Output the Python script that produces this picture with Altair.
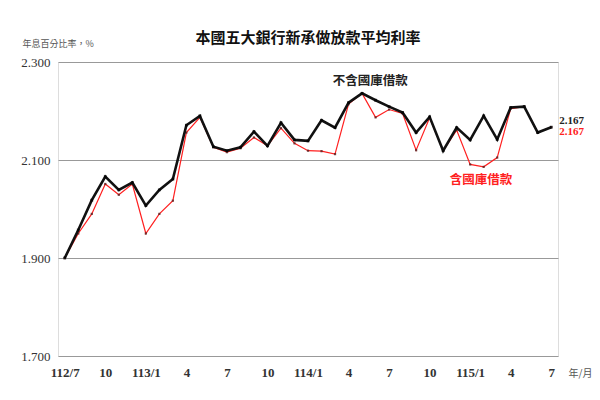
import altair as alt
import pandas as pd

tick_labels = ["112/7", "10", "113/1", "4", "7", "10", "114/1", "4", "7", "10", "115/1", "4", "7"]

excl_loan = [1.900, 1.957, 2.018, 2.066, 2.039, 2.054,
             2.007, 2.039, 2.061, 2.171, 2.190, 2.127, 2.119, 2.126, 2.158, 2.129, 2.176, 2.141,
             2.139, 2.181, 2.166, 2.217, 2.236, 2.222, 2.209, 2.197, 2.156, 2.188, 2.119, 2.166,
             2.141, 2.190, 2.142, 2.207, 2.209, 2.156, 2.167]
incl_loan = [1.900, 1.950, 1.990, 2.051, 2.029, 2.051,
             1.950, 1.990, 2.017, 2.156, 2.187, 2.126, 2.116, 2.124, 2.146, 2.129, 2.165, 2.134,
             2.119, 2.118, 2.112, 2.214, 2.236, 2.187, 2.203, 2.195, 2.120, 2.186, 2.119, 2.161,
             2.091, 2.086, 2.105, 2.205, 2.209, 2.156, 2.167]

title_text = "本國五大銀行新承做放款平均利率"

n = len(excl_loan)
df = pd.DataFrame({
    "i": list(range(n)) * 2,
    "v": excl_loan + incl_loan,
    "s": ["不含國庫借款"] * n + ["含國庫借款"] * n,
})
df_ex = df[df.s == "不含國庫借款"]
df_in = df[df.s == "含國庫借款"]

label_expr = "{" + ",".join(f"'{k*3}':'{t}'" for k, t in enumerate(tick_labels)) + "}[datum.value]"

xscale = alt.Scale(domain=[-0.5, 36.5], nice=False, zero=False)
yscale = alt.Scale(domain=[1.7, 2.3], nice=False, zero=False)

x = alt.X("i:Q", scale=xscale, axis=alt.Axis(
    values=list(range(0, 37, 3)), labelExpr=label_expr, grid=False, domain=False, ticks=False,
    labelFont="Liberation Serif", labelFontSize=13, labelFontWeight="bold", labelColor="#333",
    labelPadding=10, title="年/月", titleFont="Noto Sans CJK TC", titleFontSize=10,
    titleFontWeight="normal", titleColor="#555", titleX=522, titleY=17, titleBaseline="middle",
    titleAlign="center"))
y = alt.Y("v:Q", scale=yscale, axis=alt.Axis(
    values=[1.7, 1.9, 2.1, 2.3], format=".3f", grid=True, gridColor="#999", gridWidth=1,
    domain=False, ticks=False, labelFont="Liberation Serif", labelFontSize=13, labelColor="#333",
    labelPadding=8, title="年息百分比率，%", titleAngle=0, titleX=-36, titleY=-19,
    titleAlign="left", titleBaseline="middle", titleFont="Noto Sans CJK TC", titleFontSize=9,
    titleFontWeight="normal", titleColor="#555"))

red_line = alt.Chart(df_in).mark_line(color="#ff2020", strokeWidth=1.2).encode(x=x, y=y)
red_pts = alt.Chart(df_in).mark_point(shape="square", filled=True, size=5, color="#552222", opacity=0.8).encode(x="i:Q", y="v:Q")
black_line = alt.Chart(df_ex).mark_line(color="#111", strokeWidth=2.6).encode(x="i:Q", y="v:Q")
black_pts = alt.Chart(df_ex).mark_point(shape="square", filled=True, size=8, color="#000").encode(x="i:Q", y="v:Q")

ann = pd.DataFrame({"i": [22.6, 30.8], "v": [2.262, 2.060], "t": ["不含國庫借款", "含國庫借款"], "c": ["#222", "#ff2020"]})
ann_text = alt.Chart(ann).mark_text(font="Noto Sans CJK TC", fontSize=12.5, fontWeight="bold").encode(
    x="i:Q", y="v:Q", text="t:N", color=alt.Color("c:N", scale=None))

end = pd.DataFrame({"i": [36, 36], "v": [excl_loan[-1], incl_loan[-1]],
                    "t": [f"{excl_loan[-1]:.3f}", f"{incl_loan[-1]:.3f}"]})
end_black = alt.Chart(end.iloc[[0]]).mark_text(align="left", dx=8, dy=-6.5, font="Liberation Serif", fontSize=11, fontWeight="bold", color="#222").encode(
    x="i:Q", y="v:Q", text="t:N")
end_red = alt.Chart(end.iloc[[1]]).mark_text(align="left", dx=8, dy=4.5, font="Liberation Serif", fontSize=11, fontWeight="bold", color="#ff2020").encode(
    x="i:Q", y="v:Q", text="t:N")

title_mark = alt.Chart(pd.DataFrame({"t": [title_text]})).mark_text(
    font="Noto Sans CJK TC", fontSize=15, fontWeight="bold", color="#111", align="center", baseline="middle").encode(
    x=alt.value(250), y=alt.value(-24), text="t:N")

chart = alt.layer(red_line, red_pts, black_line, black_pts, ann_text, end_black, end_red, title_mark).properties(
    width=500, height=294,
    autosize=alt.AutoSizeParams(type="none"),
    padding={"left": 50, "top": 54, "right": 34, "bottom": 36},
).configure_view(stroke="#888", strokeWidth=2).configure(background="white")

chart.save("out.html", embed_options={"renderer": "svg", "actions": False})
